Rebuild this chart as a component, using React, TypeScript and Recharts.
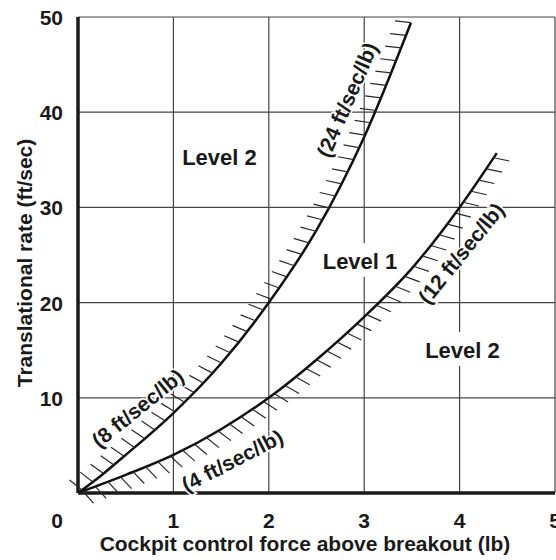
import React from 'react';
import { ComposedChart, Line, Scatter, XAxis, YAxis, CartesianGrid } from 'recharts';

// ---- data ----
const xTicks = [0, 1, 2, 3, 4, 5];
const yTicks = [0, 10, 20, 30, 40, 50];

// upper boundary (8 -> 24 ft/sec/lb)
const upperX = [0, 0.25, 0.5, 1, 1.5, 2, 2.5, 3, 3.49];
const upperY = [0, 1.9, 4.0, 8.4, 13.6, 20, 27.6, 37.4, 49.4];
// lower boundary (4 -> 12 ft/sec/lb)
const lowerX = [0, 0.5, 1, 1.5, 2, 2.5, 3, 3.5, 4, 4.39];
const lowerY = [0, 1.9, 4.0, 6.7, 10, 14, 18.5, 23.6, 30, 35.7];

const curveLabelText = ['(8 ft/sec/lb)', '(24 ft/sec/lb)', '(4 ft/sec/lb)', '(12 ft/sec/lb)'];
const curveLabelX = [0.629, 2.825, 1.62, 4.02];
const curveLabelY = [8.88, 41.28, 3.36, 25.16];
const curveLabelAngle = [39, 66.5, 27.3, 51];

const levelText = ['Level 2', 'Level 1', 'Level 2'];
const levelX = [1.483, 2.956, 4.03];
const levelY = [34.45, 23.53, 14.18];

// ---- layout ----
const X_MAX = 5;
const Y_MAX = 50;
const CHART_W = 556;
const CHART_H = 560;
const MARGIN = { top: 17, right: 1, bottom: 0, left: 0 };
const Y_AXIS_W = 78;
const X_AXIS_H = 67;
const PLOT_W = CHART_W - MARGIN.left - MARGIN.right - Y_AXIS_W;
const PLOT_H = CHART_H - MARGIN.top - MARGIN.bottom - X_AXIS_H;
const KX = PLOT_W / X_MAX;
const KY = PLOT_H / Y_MAX;

const FONT = '"Liberation Sans", Arial, Helvetica, sans-serif';
const TEXT_COLOR = '#1a1a1a';
const HATCH_LEN = 16;
const HATCH_SPACING = 13.5;

const toPoints = (xs: number[], ys: number[]) => xs.map((x, i) => ({ x, y: ys[i] }));
const upperData = toPoints(upperX, upperY);
const lowerData = toPoints(lowerX, lowerY);

// monotoneX tangents (same as d3 curveMonotoneX used by Recharts type="monotone")
const sgn = (v: number) => (v < 0 ? -1 : 1);
function tangents(xs: number[], ys: number[]) {
  const n = xs.length;
  const t = new Array(n).fill(0);
  for (let i = 1; i < n - 1; i++) {
    const h0 = xs[i] - xs[i - 1];
    const h1 = xs[i + 1] - xs[i];
    const s0 = (ys[i] - ys[i - 1]) / h0;
    const s1 = (ys[i + 1] - ys[i]) / h1;
    const p = (s0 * h1 + s1 * h0) / (h0 + h1);
    t[i] = (sgn(s0) + sgn(s1)) * Math.min(Math.abs(s0), Math.abs(s1), 0.5 * Math.abs(p)) || 0;
  }
  const hA = xs[1] - xs[0];
  t[0] = (3 * (ys[1] - ys[0]) / hA - t[1]) / 2;
  const hB = xs[n - 1] - xs[n - 2];
  t[n - 1] = (3 * (ys[n - 1] - ys[n - 2]) / hB - t[n - 2]) / 2;
  return t;
}

// hatch marks placed along the drawn curve at equal screen spacing
function buildHatches(xs: number[], ys: number[], rot: number, start: number) {
  const t = tangents(xs, ys);
  const out: { x: number; y: number; ang: number }[] = [];
  let acc = 0;
  let next = start;
  let prev: [number, number] | null = null;
  const N = 400;
  for (let i = 0; i < xs.length - 1; i++) {
    const x0 = xs[i], y0 = ys[i], x1 = xs[i + 1], y1 = ys[i + 1];
    const dx = (x1 - x0) / 3;
    const P = [
      [x0, y0],
      [x0 + dx, y0 + dx * t[i]],
      [x1 - dx, y1 - dx * t[i + 1]],
      [x1, y1],
    ];
    for (let k = i === 0 ? 0 : 1; k <= N; k++) {
      const u = k / N;
      const a = (1 - u) * (1 - u) * (1 - u);
      const b = 3 * u * (1 - u) * (1 - u);
      const c = 3 * u * u * (1 - u);
      const d = u * u * u;
      const px = a * P[0][0] + b * P[1][0] + c * P[2][0] + d * P[3][0];
      const py = a * P[0][1] + b * P[1][1] + c * P[2][1] + d * P[3][1];
      const da = 3 * (1 - u) * (1 - u);
      const db = 6 * u * (1 - u);
      const dc = 3 * u * u;
      const tx = da * (P[1][0] - P[0][0]) + db * (P[2][0] - P[1][0]) + dc * (P[3][0] - P[2][0]);
      const ty = da * (P[1][1] - P[0][1]) + db * (P[2][1] - P[1][1]) + dc * (P[3][1] - P[2][1]);
      if (prev) {
        acc += Math.hypot((px - prev[0]) * KX, (py - prev[1]) * KY);
      }
      prev = [px, py];
      if (acc >= next) {
        const tan = (Math.atan2(ty * KY, tx * KX) * 180) / Math.PI;
        out.push({ x: px, y: py, ang: tan + rot });
        next += HATCH_SPACING;
      }
    }
  }
  return out;
}

const upperHatches = buildHatches(upperX, upperY, 105, 5);
const lowerHatches = buildHatches(lowerX, lowerY, -68, 5);

const curveLabels = curveLabelText.map((text, i) => ({
  x: curveLabelX[i],
  y: curveLabelY[i],
  text,
  angle: curveLabelAngle[i],
}));
const levelLabels = levelText.map((text, i) => ({ x: levelX[i], y: levelY[i], text }));

const HatchShape = (p: any) => {
  if (p.cx == null || p.cy == null) return <g />;
  const a = (p.payload.ang * Math.PI) / 180;
  return (
    <line
      x1={p.cx}
      y1={p.cy}
      x2={p.cx + HATCH_LEN * Math.cos(a)}
      y2={p.cy - HATCH_LEN * Math.sin(a)}
      stroke="#2a2a2a"
      strokeWidth={1.2}
    />
  );
};

const CurveLabelShape = (p: any) => {
  if (p.cx == null || p.cy == null) return <g />;
  return (
    <text
      x={p.cx}
      y={p.cy}
      dy="0.33em"
      textAnchor="middle"
      transform={`rotate(${-p.payload.angle} ${p.cx} ${p.cy})`}
      fontFamily={FONT}
      fontWeight="bold"
      fontSize={21}
      fill={TEXT_COLOR}
      stroke="#fff"
      strokeWidth={3}
      paintOrder="stroke"
    >
      {p.payload.text}
    </text>
  );
};

const LevelShape = (p: any) => {
  if (p.cx == null || p.cy == null) return <g />;
  return (
    <g>
      <rect x={p.cx - 40} y={p.cy - 26} width={80} height={34} fill="#fff" />
      <text
        x={p.cx}
        y={p.cy}
        textAnchor="middle"
        fontFamily={FONT}
        fontWeight="bold"
        fontSize={22}
        fill={TEXT_COLOR}
      >
        {p.payload.text}
      </text>
    </g>
  );
};

const XTick = (p: any) => {
  const v = p.payload.value;
  return (
    <text
      x={v === 0 ? p.x - 21 : p.x}
      y={p.y}
      dy={27}
      textAnchor="middle"
      fontFamily={FONT}
      fontWeight="bold"
      fontSize={21}
      fill={TEXT_COLOR}
    >
      {v}
    </text>
  );
};

const YTick = (p: any) => {
  const v = p.payload.value;
  if (v === 0) return <g />;
  return (
    <text
      x={p.x - 7}
      y={p.y}
      dy={8}
      textAnchor="end"
      fontFamily={FONT}
      fontWeight="bold"
      fontSize={21}
      fill={TEXT_COLOR}
    >
      {v}
    </text>
  );
};

const XLabel = () => (
  <text
    x={305}
    y={551}
    textAnchor="middle"
    fontFamily={FONT}
    fontWeight="bold"
    fontSize={21}
    fill={TEXT_COLOR}
  >
    Cockpit control force above breakout (lb)
  </text>
);

const YLabel = () => (
  <text
    x={32}
    y={263}
    textAnchor="middle"
    transform="rotate(-90 32 263)"
    fontFamily={FONT}
    fontWeight="bold"
    fontSize={21}
    fill={TEXT_COLOR}
  >
    Translational rate (ft/sec)
  </text>
);

export default function App() {
  return (
    <div style={{ position: 'absolute', left: 0, top: 0, background: '#fff' }}>
      <ComposedChart width={CHART_W} height={CHART_H} margin={MARGIN}>
        <CartesianGrid stroke="#444" strokeWidth={1.2} />
        <XAxis
          type="number"
          dataKey="x"
          domain={[0, X_MAX]}
          ticks={xTicks}
          height={X_AXIS_H}
          axisLine={{ stroke: '#1a1a1a', strokeWidth: 3.5 }}
          tickLine={false}
          tick={XTick}
          interval={0}
          label={{ content: XLabel }}
        />
        <YAxis
          type="number"
          dataKey="y"
          domain={[0, Y_MAX]}
          ticks={yTicks}
          width={Y_AXIS_W}
          axisLine={{ stroke: '#1a1a1a', strokeWidth: 3.5 }}
          tickLine={false}
          tick={YTick}
          interval={0}
          label={{ content: YLabel }}
        />
        <Scatter data={levelLabels} dataKey="y" shape={LevelShape} isAnimationActive={false} />
        <Scatter data={upperHatches} dataKey="y" shape={HatchShape} isAnimationActive={false} />
        <Scatter data={lowerHatches} dataKey="y" shape={HatchShape} isAnimationActive={false} />
        <Line
          data={upperData}
          dataKey="y"
          type="monotone"
          stroke="#111"
          strokeWidth={2.5}
          dot={false}
          activeDot={false}
          isAnimationActive={false}
        />
        <Line
          data={lowerData}
          dataKey="y"
          type="monotone"
          stroke="#111"
          strokeWidth={2.5}
          dot={false}
          activeDot={false}
          isAnimationActive={false}
        />
        <Scatter data={curveLabels} dataKey="y" shape={CurveLabelShape} isAnimationActive={false} />
      </ComposedChart>
    </div>
  );
}
